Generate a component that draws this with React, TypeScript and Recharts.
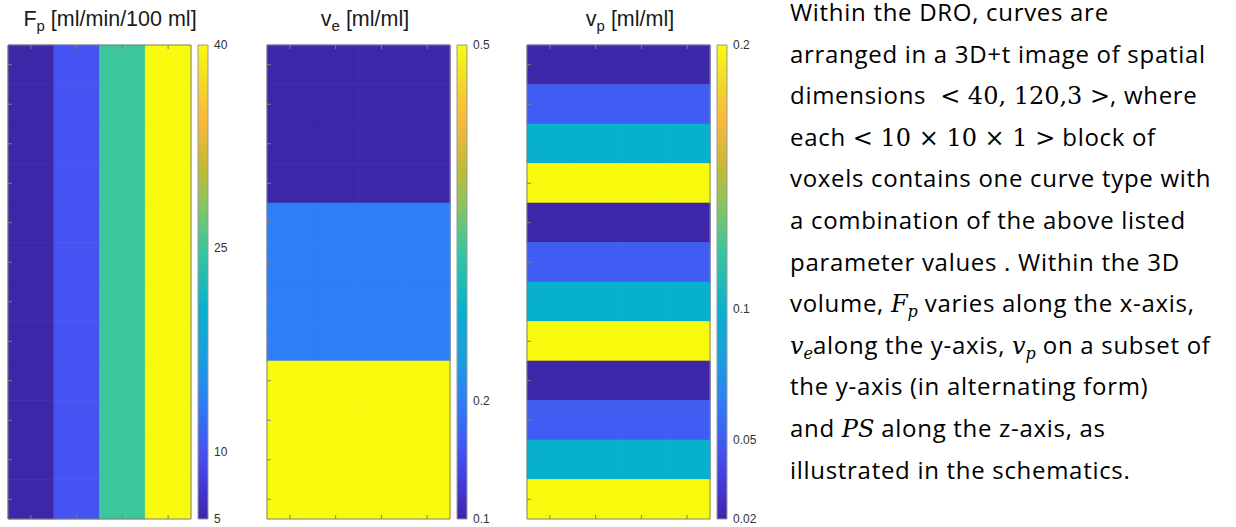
import React from 'react';
import { BarChart, Bar, XAxis, YAxis, Cell } from 'recharts';

// parameter values, one per block row/column of the DRO
const fpValues = [5, 10, 25, 40];
const veValues = [0.1, 0.2, 0.5];
const vpValues = [0.02, 0.05, 0.1, 0.2];

// colorbar ticks
const fpTicks = [5, 10, 25, 40];
const veTicks = [0.1, 0.2, 0.5];
const vpTicks = [0.02, 0.05, 0.1, 0.2];

// 40 x 120 voxels in 10 x 10 blocks
const nCols = 4;
const nRows = 12;

// parula-like colormap
const parula: [number, string][] = [
  [0, '#3e26a8'],
  [0.07, '#4538d9'],
  [0.143, '#4453f1'],
  [0.25, '#2e7ef6'],
  [0.34, '#1a9fde'],
  [0.444, '#07b1ce'],
  [0.571, '#3bc69b'],
  [0.66, '#88c462'],
  [0.74, '#c2ba34'],
  [0.84, '#f9b83c'],
  [0.92, '#f3d82a'],
  [1, '#f9fb0e'],
];

function hexToRgb(h: string) {
  return [1, 3, 5].map((i) => parseInt(h.slice(i, i + 2), 16));
}

function parulaColor(t: number) {
  const v = Math.max(0, Math.min(1, t));
  for (let i = 1; i < parula.length; i++) {
    const [t1, c1] = parula[i];
    const [t0, c0] = parula[i - 1];
    if (v <= t1) {
      const f = (v - t0) / (t1 - t0);
      const a = hexToRgb(c0);
      const b = hexToRgb(c1);
      const rgb = a.map((x, k) => Math.round(x + (b[k] - x) * f));
      return `rgb(${rgb.join(',')})`;
    }
  }
  return parula[parula.length - 1][1];
}

const PLOT_TOP = 45;
const PLOT_W = 183;
const PLOT_H = 474;
const CB_OFFSET = 190;
const CB_W = 10;
const CB_PAD = 12;
const FONT = '"Liberation Sans", Arial, sans-serif';
const BOX = '#808080';

type Panel = {
  left: number;
  titleCenter: number;
  title: React.ReactNode;
  values: number[];
  ticks: number[];
  cell: (c: number, r: number) => number;
};

const panels: Panel[] = [
  {
    left: 8,
    titleCenter: 110,
    title: (<>F<sub style={{ fontSize: '0.7em' }}>p</sub> [ml/min/100 ml]</>),
    values: fpValues,
    ticks: fpTicks,
    cell: (c) => fpValues[c],
  },
  {
    left: 267,
    titleCenter: 365,
    title: (<>v<sub style={{ fontSize: '0.7em' }}>e</sub> [ml/ml]</>),
    values: veValues,
    ticks: veTicks,
    cell: (_c, r) => veValues[Math.floor(r / (nRows / veValues.length))],
  },
  {
    left: 527,
    titleCenter: 630,
    title: (<>v<sub style={{ fontSize: '0.7em' }}>p</sub> [ml/ml]</>),
    values: vpValues,
    ticks: vpTicks,
    cell: (_c, r) => vpValues[r % vpValues.length],
  },
];

const rowKeys = Array.from({ length: nRows }, (_, r) => `r${r}`);
const rowCenters = rowKeys.map((_, r) => r + 0.5);
const heatData = Array.from({ length: nCols }, (_, c) => {
  const d: Record<string, number> = { col: c };
  rowKeys.forEach((k) => (d[k] = 1));
  return d;
});

function Heatmap({ p }: { p: Panel }) {
  const lo = Math.min(...p.values);
  const hi = Math.max(...p.values);
  const norm = (v: number) => (v - lo) / (hi - lo);
  const blank = () => '';
  return (
    <BarChart
      width={PLOT_W + 2}
      height={PLOT_H + 2}
      data={heatData}
      margin={{ top: 1, right: 1, bottom: 1, left: 1 }}
      barCategoryGap={0}
      barGap={0}
    >
      <XAxis xAxisId="b" dataKey="col" orientation="bottom" mirror tickSize={4} interval={0} tickFormatter={blank} stroke={BOX} />
      <XAxis xAxisId="t" dataKey="col" orientation="top" mirror tickSize={4} interval={0} tickFormatter={blank} stroke={BOX} />
      <YAxis yAxisId="l" type="number" domain={[0, nRows]} reversed ticks={rowCenters} orientation="left" mirror tickSize={4} interval={0} tickFormatter={blank} stroke={BOX} />
      <YAxis yAxisId="r" type="number" domain={[0, nRows]} reversed ticks={rowCenters} orientation="right" mirror tickSize={4} interval={0} tickFormatter={blank} stroke={BOX} />
      {rowKeys.map((k, r) => (
        <Bar key={k} dataKey={k} stackId="s" xAxisId="b" yAxisId="l" isAnimationActive={false}>
          {heatData.map((_, c) => {
            const col = parulaColor(norm(p.cell(c, r)));
            return <Cell key={c} fill={col} stroke={col} strokeWidth={0.6} />;
          })}
        </Bar>
      ))}
    </BarChart>
  );
}

function Colorbar({ p, id }: { p: Panel; id: string }) {
  const lo = Math.min(...p.values);
  const hi = Math.max(...p.values);
  return (
    <BarChart
      width={CB_W + 44}
      height={PLOT_H + 2 * CB_PAD}
      data={[{ name: 'cb', v: hi }]}
      margin={{ top: CB_PAD, right: 0, bottom: CB_PAD, left: 1 }}
      barCategoryGap={0}
    >
      <defs>
        <linearGradient id={id} x1="0" y1="1" x2="0" y2="0">
          {parula.map(([t, c]) => (
            <stop key={t} offset={`${t * 100}%`} stopColor={c} />
          ))}
        </linearGradient>
      </defs>
      <XAxis dataKey="name" hide />
      <YAxis
        yAxisId="lab"
        type="number"
        domain={[lo, hi]}
        ticks={p.ticks}
        orientation="right"
        width={43}
        tickSize={0}
        tickMargin={6}
        axisLine={false}
        tickLine={false}
        interval={0}
        tick={{ fill: '#333', fontSize: 12, fontFamily: FONT }}
      />
      <YAxis
        yAxisId="tk"
        type="number"
        domain={[lo, hi]}
        ticks={p.ticks}
        orientation="right"
        mirror
        tickSize={3}
        axisLine={false}
        interval={0}
        tickFormatter={() => ''}
        stroke="#555"
      />
      <Bar dataKey="v" yAxisId="lab" fill={`url(#${id})`} stroke="#999" strokeWidth={1} isAnimationActive={false} />
    </BarChart>
  );
}

type Seg = { t: string; m?: boolean; i?: boolean; sub?: string };

const textLines: Seg[][] = [
  [{ t: 'Within the DRO, curves are' }],
  [{ t: 'arranged in a 3D+t image of spatial' }],
  [{ t: 'dimensions  ' }, { t: '< 40, 120,3 >', m: true }, { t: ', where' }],
  [{ t: 'each ' }, { t: '< 10 × 10 × 1 >', m: true }, { t: ' block of' }],
  [{ t: 'voxels contains one curve type with' }],
  [{ t: 'a combination of the above listed' }],
  [{ t: 'parameter values . Within the 3D' }],
  [{ t: 'volume, ' }, { t: 'F', m: true, i: true, sub: 'p' }, { t: ' varies along the x-axis,' }],
  [{ t: 'v', m: true, i: true, sub: 'e' }, { t: 'along the y-axis, ' }, { t: 'v', m: true, i: true, sub: 'p' }, { t: ' on a subset of' }],
  [{ t: 'the y-axis (in alternating form)' }],
  [{ t: 'and ' }, { t: 'PS', m: true, i: true }, { t: ' along the z-axis, as' }],
  [{ t: 'illustrated in the schematics.' }],
];

function Segment({ s }: { s: Seg }) {
  if (!s.m) return <span>{s.t}</span>;
  return (
    <span style={{ fontFamily: '"DejaVu Serif", "Liberation Serif", serif', fontStyle: s.i ? 'italic' : 'normal', fontSize: 24, letterSpacing: 0 }}>
      {s.t}
      {s.sub && <sub style={{ fontSize: 16, verticalAlign: '-5px' }}>{s.sub}</sub>}
    </span>
  );
}

export default function App() {
  return (
    <div style={{ position: 'absolute', left: 0, top: 0, width: 1236, height: 527, background: '#fff', overflow: 'hidden' }}>
      {panels.map((p, i) => (
        <React.Fragment key={i}>
          <div
            style={{
              position: 'absolute',
              left: p.titleCenter - 120,
              top: 5,
              width: 240,
              textAlign: 'center',
              fontFamily: FONT,
              fontSize: 21.5,
              lineHeight: '28px',
              color: '#1a1a1a',
              whiteSpace: 'pre',
            }}
          >
            {p.title}
          </div>
          <div style={{ position: 'absolute', left: p.left - 1, top: PLOT_TOP - 1 }}>
            <Heatmap p={p} />
          </div>
          <div style={{ position: 'absolute', left: p.left + CB_OFFSET - 1, top: PLOT_TOP - CB_PAD }}>
            <Colorbar p={p} id={`cbgrad${i}`} />
          </div>
        </React.Fragment>
      ))}
      <div
        style={{
          position: 'absolute',
          left: 790,
          top: -9,
          fontFamily: '"Open Sans", Lato, sans-serif',
          fontSize: 24,
          letterSpacing: 0.7,
          lineHeight: '41.6px',
          color: '#000',
          whiteSpace: 'pre',
        }}
      >
        {textLines.map((line, i) => (
          <div key={i} style={{ height: 41.6 }}>
            {line.map((s, j) => (
              <Segment key={j} s={s} />
            ))}
          </div>
        ))}
      </div>
    </div>
  );
}
